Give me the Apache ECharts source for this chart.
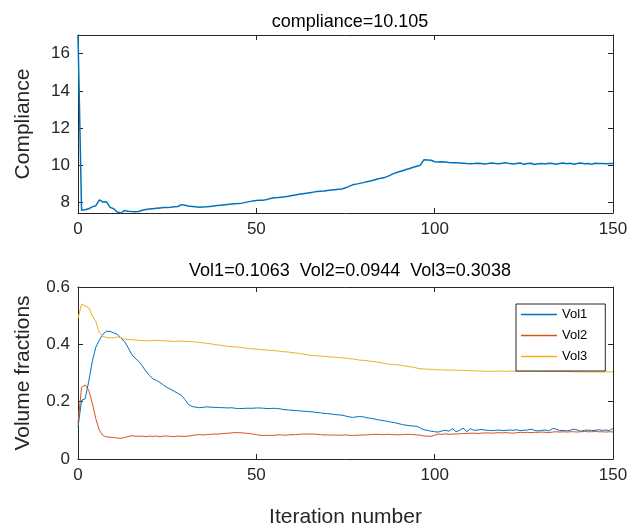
<!DOCTYPE html>
<html>
<head>
<meta charset="utf-8">
<script src="https://cdn.jsdelivr.net/npm/echarts@6/dist/echarts.min.js"></script>
<style>
html, body { margin: 0; padding: 0; background: #fff; }
#main { width: 639px; height: 529px; }
</style>
</head>
<body>
<div id="main"></div>
<script>
// compliance per iteration, 0..150
var compliance = [
    17.0, 7.6, 7.62, 7.68, 7.78, 7.84, 8.15, 8.04, 8.05, 7.75,
    7.68, 7.5, 7.45, 7.58, 7.55, 7.53, 7.52, 7.53, 7.6, 7.64,
    7.66, 7.68, 7.7, 7.72, 7.74, 7.75, 7.76, 7.78, 7.8, 7.9,
    7.86, 7.82, 7.8, 7.78, 7.76, 7.77, 7.78, 7.8, 7.82, 7.85,
    7.87, 7.89, 7.91, 7.93, 7.95, 7.96, 7.98, 8.02, 8.06, 8.1,
    8.12, 8.13, 8.14, 8.18, 8.23, 8.27, 8.28, 8.3, 8.32, 8.35,
    8.39, 8.42, 8.45, 8.48, 8.51, 8.54, 8.57, 8.6, 8.62, 8.63,
    8.66, 8.68, 8.7, 8.72, 8.74, 8.8, 8.88, 8.96, 9.0, 9.04,
    9.08, 9.13, 9.17, 9.22, 9.27, 9.32, 9.36, 9.43, 9.52, 9.6,
    9.66, 9.72, 9.78, 9.84, 9.9, 9.96, 10.02, 10.31, 10.3, 10.28,
    10.2, 10.18, 10.2, 10.19, 10.16, 10.15, 10.14, 10.13, 10.12, 10.1,
    10.09, 10.1, 10.12, 10.11, 10.08, 10.1, 10.13, 10.11, 10.09, 10.12,
    10.14, 10.1, 10.08, 10.11, 10.13, 10.06, 10.1, 10.12, 10.05, 10.09,
    10.11, 10.08, 10.12, 10.1, 10.07, 10.11, 10.13, 10.09, 10.12, 10.07,
    10.1, 10.13, 10.09, 10.11, 10.07, 10.12, 10.1, 10.11, 10.09, 10.11,
    10.105
];

var vol1 = [
    0.11, 0.205, 0.21, 0.27, 0.34, 0.39, 0.415, 0.435, 0.446, 0.445,
    0.44, 0.435, 0.422, 0.41, 0.39, 0.366, 0.352, 0.341, 0.325, 0.307,
    0.292, 0.28, 0.274, 0.267, 0.258, 0.249, 0.243, 0.236, 0.229, 0.222,
    0.207, 0.19, 0.183, 0.181, 0.179, 0.18, 0.182, 0.181, 0.18, 0.18,
    0.179, 0.179, 0.178, 0.179, 0.177, 0.176, 0.176, 0.177, 0.177, 0.177,
    0.178, 0.178, 0.177, 0.176, 0.176, 0.177, 0.176, 0.174, 0.172, 0.171,
    0.17, 0.169, 0.168, 0.167, 0.166, 0.165, 0.164, 0.162, 0.161, 0.159,
    0.158, 0.157, 0.155, 0.154, 0.153, 0.15, 0.147, 0.145, 0.147, 0.148,
    0.147, 0.144, 0.142, 0.14, 0.137, 0.135, 0.133, 0.131, 0.128, 0.126,
    0.123, 0.12, 0.118, 0.116, 0.115, 0.114, 0.108, 0.102, 0.1, 0.097,
    0.095, 0.094, 0.098, 0.1, 0.097, 0.106, 0.095, 0.1, 0.108, 0.095,
    0.106, 0.1, 0.101, 0.103, 0.101, 0.1, 0.099, 0.1, 0.101, 0.099,
    0.1, 0.101, 0.1, 0.102, 0.099, 0.1, 0.101, 0.104, 0.1, 0.098,
    0.1, 0.101, 0.098, 0.106, 0.105, 0.099, 0.1, 0.098, 0.1, 0.104,
    0.101, 0.097, 0.1, 0.101, 0.099, 0.1, 0.102, 0.1, 0.101, 0.099,
    0.1063
];

var vol2 = [
    0.125, 0.25, 0.258, 0.24, 0.195, 0.14, 0.1, 0.082, 0.077, 0.076,
    0.075, 0.073, 0.072, 0.075, 0.078, 0.081, 0.08, 0.079, 0.08, 0.078,
    0.08, 0.079, 0.08, 0.078, 0.08, 0.08, 0.079, 0.078, 0.08, 0.079,
    0.079, 0.08, 0.082, 0.084, 0.085, 0.084, 0.085, 0.086, 0.087, 0.087,
    0.088, 0.089, 0.09, 0.091, 0.092, 0.092, 0.091, 0.09, 0.089, 0.087,
    0.085, 0.083, 0.082, 0.083, 0.082, 0.083, 0.084, 0.084, 0.083, 0.084,
    0.085, 0.085, 0.086, 0.087, 0.087, 0.087, 0.087, 0.086, 0.085, 0.084,
    0.084, 0.083, 0.084, 0.083, 0.083, 0.084, 0.083, 0.082, 0.083, 0.083,
    0.084, 0.084, 0.085, 0.086, 0.086, 0.085, 0.085, 0.086, 0.085, 0.085,
    0.084, 0.085, 0.086, 0.086, 0.085, 0.084, 0.083, 0.08, 0.08, 0.079,
    0.083, 0.087, 0.086, 0.088, 0.086, 0.087, 0.087, 0.088, 0.089, 0.089,
    0.09, 0.09, 0.089, 0.09, 0.091, 0.091, 0.09, 0.091, 0.092, 0.091,
    0.092, 0.091, 0.09, 0.092, 0.093, 0.092, 0.093, 0.092, 0.093, 0.093,
    0.094, 0.093, 0.092, 0.094, 0.095, 0.094, 0.095, 0.094, 0.095, 0.095,
    0.094, 0.095, 0.096, 0.095, 0.095, 0.096, 0.095, 0.095, 0.094, 0.095,
    0.0944
];

var vol3 = [
    0.49, 0.54, 0.534, 0.528, 0.5, 0.48, 0.44, 0.428, 0.424, 0.423,
    0.422, 0.426, 0.424, 0.418, 0.417, 0.416, 0.415, 0.414, 0.413, 0.413,
    0.412, 0.413, 0.414, 0.413, 0.412, 0.412, 0.411, 0.41, 0.411, 0.411,
    0.41, 0.41, 0.409, 0.408, 0.407, 0.405, 0.404, 0.402, 0.4, 0.398,
    0.397, 0.395, 0.393, 0.392, 0.391, 0.39, 0.388, 0.387, 0.385, 0.384,
    0.383, 0.382, 0.381, 0.38, 0.379, 0.378, 0.377, 0.375, 0.374, 0.373,
    0.371, 0.37, 0.368, 0.366, 0.364, 0.362, 0.361, 0.36, 0.359, 0.358,
    0.357, 0.356, 0.355, 0.354, 0.353, 0.352, 0.35, 0.349, 0.347, 0.345,
    0.344, 0.343, 0.341, 0.34, 0.338, 0.336, 0.333, 0.331, 0.33, 0.329,
    0.328, 0.326, 0.324, 0.322, 0.32, 0.317, 0.315, 0.314, 0.313, 0.313,
    0.312, 0.311, 0.311, 0.31, 0.31, 0.31, 0.31, 0.309, 0.309, 0.309,
    0.308, 0.308, 0.307, 0.307, 0.306, 0.306, 0.306, 0.306, 0.307, 0.306,
    0.306, 0.307, 0.306, 0.306, 0.307, 0.306, 0.306, 0.306, 0.307, 0.306,
    0.306, 0.306, 0.305, 0.306, 0.305, 0.305, 0.305, 0.305, 0.305, 0.304,
    0.304, 0.304, 0.304, 0.304, 0.303, 0.304, 0.304, 0.303, 0.304, 0.304,
    0.3038
];

var xTicks = [0, 50, 100, 150];
var complianceTicks = [8, 10, 12, 14, 16];
var volTicks = [0, 0.2, 0.4, 0.6];

function pairs(arr) {
    var out = [];
    for (var i = 0; i < arr.length; i++) out.push([i, arr[i]]);
    return out;
}

var FONT = 'Liberation Sans';
var AXC = '#262626';

function xAx(grid, pos, showLabel, name) {
    return {
        type: 'value', gridIndex: grid, position: pos,
        min: 0, max: 150, interval: 50,
        name: name || '', nameLocation: 'middle', nameGap: 48,
        nameTextStyle: { fontFamily: FONT, fontSize: 21, color: AXC },
        axisLine: { show: true, onZero: false, lineStyle: { color: AXC, width: 1 } },
        axisTick: { show: true, inside: true, length: 5, lineStyle: { color: AXC } },
        axisLabel: { show: showLabel, fontFamily: FONT, fontSize: 17, color: AXC, margin: 8 },
        splitLine: { show: false }
    };
}

function yAx(grid, pos, min, max, ticks, showLabel, name, gap) {
    return {
        type: 'value', gridIndex: grid, position: pos,
        min: min, max: max,
        name: name || '', nameLocation: 'middle', nameGap: gap || 40, nameRotate: 90,
        nameTextStyle: { fontFamily: FONT, fontSize: 21, color: AXC },
        axisLine: { show: true, onZero: false, lineStyle: { color: AXC, width: 1 } },
        axisTick: { show: true, inside: true, length: 5, customValues: ticks, lineStyle: { color: AXC } },
        axisLabel: { show: showLabel, customValues: ticks, fontFamily: FONT, fontSize: 17, color: AXC, margin: 8 },
        splitLine: { show: false }
    };
}

var myChart = echarts.init(document.getElementById('main'));

var option = {
    backgroundColor: '#fff',
    animation: false,
    title: [{
        text: 'compliance=10.105',
        left: 345, top: 8, textAlign: 'center',
        textStyle: { fontFamily: FONT, fontSize: 18, fontWeight: 'normal', color: '#000' }
    }, {
        text: 'Vol1=0.1063  Vol2=0.0944  Vol3=0.3038',
        left: 345, top: 257, textAlign: 'center',
        textStyle: { fontFamily: FONT, fontSize: 18, fontWeight: 'normal', color: '#000' }
    }],
    grid: [
        { left: 78, width: 535, top: 35, height: 178 },
        { left: 78, width: 535, top: 287, height: 176 }
    ],
    legend: {
        orient: 'vertical',
        left: 516, top: 304,
        backgroundColor: '#fff',
        borderColor: AXC, borderWidth: 1,
        padding: [4, 18, 8, 5],
        icon: 'rect',
        itemWidth: 36, itemHeight: 1.5, itemGap: 8,
        textStyle: { fontFamily: FONT, fontSize: 13, color: '#000', lineHeight: 13 },
        data: ['Vol1', 'Vol2', 'Vol3']
    },
    xAxis: [
        xAx(0, 'bottom', true),
        xAx(0, 'top', false),
        xAx(1, 'bottom', true, 'Iteration number'),
        xAx(1, 'top', false)
    ],
    yAxis: [
        yAx(0, 'left', 7.45, 17, complianceTicks, true, 'Compliance', 44),
        yAx(0, 'right', 7.45, 17, complianceTicks, false),
        yAx(1, 'left', 0, 0.6, volTicks, true, 'Volume fractions', 44),
        yAx(1, 'right', 0, 0.6, volTicks, false)
    ],
    series: [{
        name: 'compliance', type: 'line', xAxisIndex: 0, yAxisIndex: 0,
        data: pairs(compliance), symbol: 'none',
        lineStyle: { color: '#0072BD', width: 1.5 }, itemStyle: { color: '#0072BD' }
    }, {
        name: 'Vol1', type: 'line', xAxisIndex: 2, yAxisIndex: 2,
        data: pairs(vol1), symbol: 'none',
        lineStyle: { color: '#0072BD', width: 1 }, itemStyle: { color: '#0072BD' }
    }, {
        name: 'Vol2', type: 'line', xAxisIndex: 2, yAxisIndex: 2,
        data: pairs(vol2), symbol: 'none',
        lineStyle: { color: '#D95319', width: 1 }, itemStyle: { color: '#D95319' }
    }, {
        name: 'Vol3', type: 'line', xAxisIndex: 2, yAxisIndex: 2,
        data: pairs(vol3), symbol: 'none',
        lineStyle: { color: '#EDB120', width: 1 }, itemStyle: { color: '#EDB120' }
    }]
};
myChart.setOption(option);
</script>
</body>
</html>
